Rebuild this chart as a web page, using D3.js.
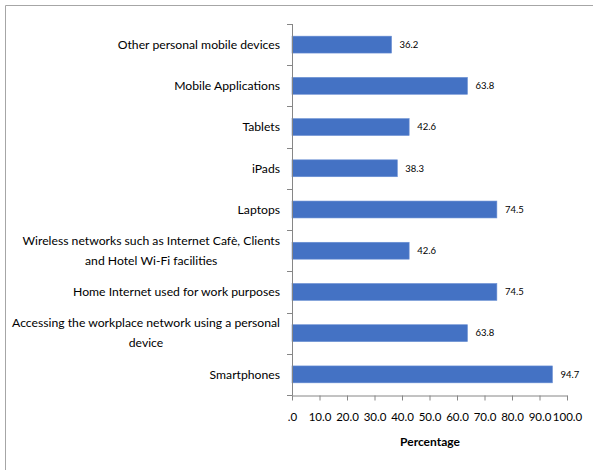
<!DOCTYPE html>
<html>
<head>
<meta charset="utf-8">
<script src="https://cdn.jsdelivr.net/npm/d3@7"></script>
<style>
  body { margin: 0; background: #fff; }
  text { font-family: Lato, "Liberation Sans", Arial, sans-serif; fill: #000; }
</style>
</head>
<body>
<div id="chart"></div>
<script>
// categories top to bottom, each entry is the label lines
const categories = [
  ["Other personal mobile devices"],
  ["Mobile Applications"],
  ["Tablets"],
  ["iPads"],
  ["Laptops"],
  ["Wireless networks such as Internet Cafè, Clients", "and Hotel Wi-Fi facilities"],
  ["Home Internet used for work purposes"],
  ["Accessing the workplace network using a personal", "device"],
  ["Smartphones"]
];
const values = [36.2, 63.8, 42.6, 38.3, 74.5, 42.6, 74.5, 63.8, 94.7];
const xTicks = [0, 10, 20, 30, 40, 50, 60, 70, 80, 90, 100];
const xTitle = "Percentage";

const width = 593;
const height = 470;

const svg = d3
  .select("#chart")
  .append("svg")
  .attr("width", width)
  .attr("height", height);

// frame (only top and left edges show)
svg.append("line").attr("x1", 5.5).attr("x2", width).attr("y1", 5.5).attr("y2", 5.5)
  .attr("stroke", "#a6a6a6");
svg.append("line").attr("x1", 5.5).attr("x2", 5.5).attr("y1", 5.5).attr("y2", height)
  .attr("stroke", "#a6a6a6");

const x = d3.scaleLinear().domain([0, 100]).range([292, 567]);

const idx = d3.range(categories.length);
const y = d3
  .scaleBand()
  .domain(idx)
  .range([24, 395])
  .paddingInner(0.59)
  .paddingOuter(0.295);
const step = y.step();

const axisColor = "#868686";

// bars
svg.selectAll("rect.bar")
  .data(values)
  .enter()
  .append("rect")
  .attr("class", "bar")
  .attr("x", x(0))
  .attr("y", (d, i) => y(i))
  .attr("width", (d) => x(d) - x(0))
  .attr("height", y.bandwidth())
  .attr("fill", "#4472c4")
  .attr("stroke", "#6a8fd3")
  .attr("stroke-width", 0.6);

// value labels
svg.selectAll("text.val")
  .data(values)
  .enter()
  .append("text")
  .attr("class", "val")
  .attr("x", (d) => x(d) + 8)
  .attr("y", (d, i) => y(i) + y.bandwidth() / 2)
  .attr("dy", "0.35em")
  .style("font-size", "9.5px")
  .text((d) => d.toFixed(1));

// x axis
const xAxis = svg.append("g")
  .attr("transform", "translate(0,395.5)")
  .call(d3.axisBottom(x).tickValues(xTicks).tickSize(5).tickSizeOuter(0)
    .tickFormat((d) => d === 0 ? ".0" : d.toFixed(1)));
xAxis.select(".domain").attr("stroke", axisColor);
xAxis.selectAll(".tick line").attr("stroke", axisColor);
xAxis.selectAll(".tick text")
  .attr("y", 17)
  .style("font-size", "11.5px")
  .style("font-family", "Lato, \"Liberation Sans\", Arial, sans-serif")
  .attr("fill", "#000");

// y axis line and ticks at band edges
svg.append("line")
  .attr("x1", x(0) + 0.5).attr("x2", x(0) + 0.5)
  .attr("y1", 24).attr("y2", 395.5)
  .attr("stroke", axisColor);
svg.selectAll("line.ytick")
  .data(d3.range(categories.length + 1))
  .enter()
  .append("line")
  .attr("class", "ytick")
  .attr("x1", x(0) - 5).attr("x2", x(0) + 0.5)
  .attr("y1", (d) => Math.round(24 + d * step) + 0.5)
  .attr("y2", (d) => Math.round(24 + d * step) + 0.5)
  .attr("stroke", axisColor);

// category labels, multi-line ones are centred on their block
const lineH = 20;
const right = x(0) - 12;
const catG = svg.selectAll("g.cat")
  .data(categories)
  .enter()
  .append("g")
  .attr("class", "cat")
  .attr("transform", (d, i) => "translate(0," + (y(i) + y.bandwidth() / 2) + ")");

catG.each(function (lines) {
  const g = d3.select(this);
  if (lines.length === 1) {
    g.append("text")
      .attr("x", right)
      .attr("dy", "0.35em")
      .attr("text-anchor", "end")
      .style("font-size", "12.2px")
      .text(lines[0]);
  } else {
    const t = g.append("text")
      .attr("text-anchor", "middle")
      .style("font-size", "12.2px");
    let w = 0;
    lines.forEach((l, k) => {
      const ts = t.append("tspan")
        .attr("x", 0)
        .attr("y", (k - (lines.length - 1) / 2) * lineH)
        .attr("dy", "0.35em")
        .text(l);
      w = Math.max(w, ts.node().getComputedTextLength());
    });
    t.selectAll("tspan").attr("x", right - w / 2);
  }
});

// x title
svg.append("text")
  .attr("x", 430)
  .attr("y", 442)
  .attr("dy", "0.35em")
  .attr("text-anchor", "middle")
  .style("font-size", "12px")
  .style("font-weight", "bold")
  .text(xTitle);
</script>
</body>
</html>
